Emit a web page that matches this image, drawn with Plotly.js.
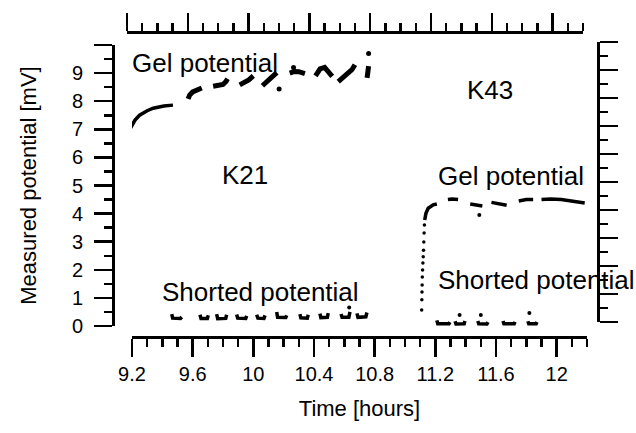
<!DOCTYPE html>
<html>
<head>
<meta charset="utf-8">
<script src="https://cdn.plot.ly/plotly-3.0.1.min.js"></script>
<style>
  html, body { margin: 0; padding: 0; background: #fff; }
  #chart { width: 636px; height: 433px; }
</style>
</head>
<body>
<div id="chart"></div>
<script>
// ---- Electrode K21: gel potential (initial drift, then sampled stretches) ----
const k21DriftTime = [9.19, 9.22, 9.25, 9.30, 9.34, 9.41, 9.47];
const k21DriftMv   = [7.04, 7.33, 7.50, 7.66, 7.75, 7.83, 7.86];

const k21GelTime = [9.57, 9.58, 9.60, 9.63, 9.66, null,
                    9.735, 9.77, 9.80, 9.82, 9.83, null,
                    9.91, 9.94, 9.97, 10.0, null,
                    10.06, 10.09, 10.12, 10.155, null,
                    10.24, 10.27, 10.30, 10.34, null,
                    10.41, 10.44, 10.47, 10.50, 10.52, null,
                    10.56, 10.59, 10.62, 10.65, 10.67, null,
                    10.75, 10.755, 10.76];
const k21GelMv   = [8.08, 8.22, 8.33, 8.42, 8.47, null,
                    8.53, 8.56, 8.60, 8.70, 8.80, null,
                    8.58, 8.66, 8.76, 8.90, null,
                    8.55, 8.68, 8.85, 9.02, null,
                    9.00, 9.06, 9.05, 8.98, null,
                    8.90, 9.15, 9.20, 9.00, 8.88, null,
                    8.70, 8.85, 8.95, 9.12, 9.30, null,
                    8.83, 9.00, 9.25];
const k21GelDotTime = [10.17, 10.265, 10.76];
const k21GelDotMv   = [8.43, 9.20, 9.70];

// ---- Electrode K21: shorted potential ----
const k21ShortTime = [9.462, 9.468, 9.52, 9.528, null,
                      9.648, 9.655, 9.697, 9.703, null,
                      9.758, 9.765, 9.818, 9.824, null,
                      9.890, 9.897, 9.95, 9.956, null,
                      10.022, 10.03, 10.07, 10.077, null,
                      10.154, 10.16, 10.214, 10.22, null,
                      10.307, 10.313, 10.356, 10.362, null,
                      10.439, 10.445, 10.488, 10.494, null,
                      10.578, 10.585, 10.63, 10.637, null,
                      10.683, 10.69, 10.742, 10.749];
const k21ShortMv   = [0.42, 0.28, 0.27, 0.32, null,
                      0.40, 0.27, 0.27, 0.38, null,
                      0.42, 0.26, 0.27, 0.40, null,
                      0.41, 0.28, 0.27, 0.36, null,
                      0.40, 0.28, 0.27, 0.38, null,
                      0.50, 0.31, 0.30, 0.38, null,
                      0.42, 0.29, 0.28, 0.40, null,
                      0.44, 0.30, 0.31, 0.46, null,
                      0.43, 0.31, 0.31, 0.50, null,
                      0.45, 0.31, 0.33, 0.48];
const k21ShortDotTime = [10.632];
const k21ShortDotMv   = [0.66];

// ---- Electrode K43: fast rise after connection, then gel potential ----
const k43RiseTime = [11.110, 11.111, 11.112, 11.113, 11.114, 11.116,
                     11.118, 11.120, 11.122, 11.124, 11.126, 11.128];
const k43RiseMv   = [0.57, 0.93, 1.21, 1.46, 1.74, 1.99,
                     2.24, 2.46, 2.70, 2.99, 3.31, 3.59];

const k43GelTime = [11.13, 11.138, 11.153, 11.186, 11.21, null,
                    11.283, 11.31, 11.35, null,
                    11.43, 11.47, 11.51, null,
                    11.57, 11.62, 11.67, null,
                    11.75, 11.80, 11.845, null,
                    11.90, 11.96, 12.03, 12.10, 12.185];
const k43GelMv   = [3.77, 4.01, 4.19, 4.31, 4.34, null,
                    4.50, 4.52, 4.50, null,
                    4.34, 4.32, 4.27, null,
                    4.40, 4.36, 4.30, null,
                    4.45, 4.50, 4.50, null,
                    4.50, 4.52, 4.50, 4.45, 4.38];
const k43GelDotTime = [11.49];
const k43GelDotMv   = [3.95];

// ---- Electrode K43: shorted potential ----
const k43ShortTime = [11.21, 11.216, 11.29, 11.296, null,
                      11.33, 11.336, 11.39, 11.395, null,
                      11.48, 11.486, 11.54, 11.547, null,
                      11.646, 11.652, 11.72, 11.725, null,
                      11.81, 11.816, 11.865, 11.87];
const k43ShortMv   = [0.20, 0.08, 0.08, 0.14, null,
                      0.17, 0.07, 0.08, 0.18, null,
                      0.18, 0.08, 0.07, 0.14, null,
                      0.18, 0.08, 0.08, 0.15, null,
                      0.17, 0.08, 0.08, 0.14];
const k43ShortDotTime = [11.36, 11.50, 11.82];
const k43ShortDotMv   = [0.39, 0.39, 0.46];

// ---- Axis ticks ----
const timeTicks      = [9.2, 9.6, 10.0, 10.4, 10.8, 11.2, 11.6, 12.0];
const timeTickLabels = ['9.2', '9.6', '10', '10.4', '10.8', '11.2', '11.6', '12'];
const mvTicks        = [0, 1, 2, 3, 4, 5, 6, 7, 8, 9, 10];
const mvTickLabels   = ['0', '1', '2', '3', '4', '5', '6', '7', '8', '9', ''];

const FONT = 'Liberation Sans, Arial, Helvetica, sans-serif';
const INK = '#000';

function lineTrace(x, y, width) {
  return { x, y, type: 'scatter', mode: 'lines', connectgaps: false,
           line: { color: INK, width, shape: 'linear' },
           hoverinfo: 'skip', showlegend: false, cliponaxis: false };
}
function dotTrace(x, y, size) {
  return { x, y, type: 'scatter', mode: 'markers',
           marker: { color: INK, size, line: { width: 0 } },
           hoverinfo: 'skip', showlegend: false, cliponaxis: false };
}

const traces = [
  lineTrace(k21DriftTime, k21DriftMv, 3.5),
  lineTrace(k21GelTime, k21GelMv, 5),
  dotTrace(k21GelDotTime, k21GelDotMv, 5),
  lineTrace(k21ShortTime, k21ShortMv, 3.5),
  dotTrace(k21ShortDotTime, k21ShortDotMv, 4),
  dotTrace(k43RiseTime, k43RiseMv, 3.5),
  lineTrace(k43GelTime, k43GelMv, 3.5),
  dotTrace(k43GelDotTime, k43GelDotMv, 4),
  lineTrace(k43ShortTime, k43ShortMv, 3.5),
  dotTrace(k43ShortDotTime, k43ShortDotMv, 4),
  // carries the mirrored top/right axes
  { x: [], y: [], type: 'scatter', mode: 'markers', xaxis: 'x2', yaxis: 'y2',
    hoverinfo: 'skip', showlegend: false }
];

const W = 636, H = 433;
const axisBase = {
  showline: true, linecolor: INK, linewidth: 2.5,
  ticks: 'outside', tickcolor: INK, tickwidth: 2.5, ticklen: 18,
  showgrid: false, zeroline: false, fixedrange: true,
  tickfont: { family: FONT, size: 20, color: INK }
};
const timeMinor = { tickmode: 'linear', tick0: 9.2, dtick: 0.1, ticks: 'outside',
                    ticklen: 8, tickwidth: 2.5, tickcolor: INK, showgrid: false };
const mvMinor = { tickmode: 'linear', tick0: 0, dtick: 0.5, ticks: 'outside',
                  ticklen: 8, tickwidth: 2.5, tickcolor: INK, showgrid: false };

const layout = {
  width: W, height: H,
  margin: { l: 0, r: 0, t: 0, b: 0, pad: 0 },
  paper_bgcolor: '#fff', plot_bgcolor: 'rgba(0,0,0,0)',
  showlegend: false,
  font: { family: FONT, color: INK },
  xaxis: Object.assign({}, axisBase, {
    domain: [132 / W, 587 / W], range: [9.2, 12.2],
    anchor: 'free', position: 1 - 337 / H,
    tickmode: 'array', tickvals: timeTicks, ticktext: timeTickLabels,
    minor: timeMinor,
    title: { text: 'Time [hours]', font: { family: FONT, size: 22, color: INK }, standoff: 16 }
  }),
  yaxis: Object.assign({}, axisBase, {
    domain: [1 - 326 / H, 1 - 45 / H], range: [0, 10],
    anchor: 'free', position: 113 / W,
    tickmode: 'array', tickvals: mvTicks, ticktext: mvTickLabels,
    ticklabelstandoff: 7,
    minor: mvMinor,
    title: { text: 'Measured potential [mV]', font: { family: FONT, size: 22, color: INK }, standoff: 28 }
  }),
  xaxis2: Object.assign({}, axisBase, {
    domain: [127 / W, 583 / W], range: [9.2, 12.2],
    anchor: 'free', position: 1 - 32 / H, side: 'top',
    showticklabels: false,
    tickmode: 'array', tickvals: timeTicks,
    minor: timeMinor
  }),
  yaxis2: Object.assign({}, axisBase, {
    domain: [1 - 322 / H, 1 - 42 / H], range: [0, 10],
    anchor: 'free', position: 598 / W, side: 'right',
    showticklabels: false,
    tickmode: 'array', tickvals: mvTicks,
    minor: mvMinor
  }),
  annotations: [
    { text: 'Gel potential', x: 130 / W, y: 1 - 63 / H, xanchor: 'left' },
    { text: 'K21', x: 245 / W, y: 1 - 175 / H, xanchor: 'center' },
    { text: 'K43', x: 490 / W, y: 1 - 90 / H, xanchor: 'center' },
    { text: 'Gel potential', x: 436 / W, y: 1 - 176 / H, xanchor: 'left' },
    { text: 'Shorted potential', x: 160 / W, y: 1 - 292 / H, xanchor: 'left' },
    { text: 'Shorted potential', x: 436 / W, y: 1 - 280 / H, xanchor: 'left' }
  ].map(a => Object.assign({
    xref: 'paper', yref: 'paper', yanchor: 'middle', showarrow: false,
    font: { family: FONT, size: 26, color: INK }
  }, a))
};

Plotly.newPlot('chart', traces, layout, { staticPlot: true, displayModeBar: false });
</script>
</body>
</html>
